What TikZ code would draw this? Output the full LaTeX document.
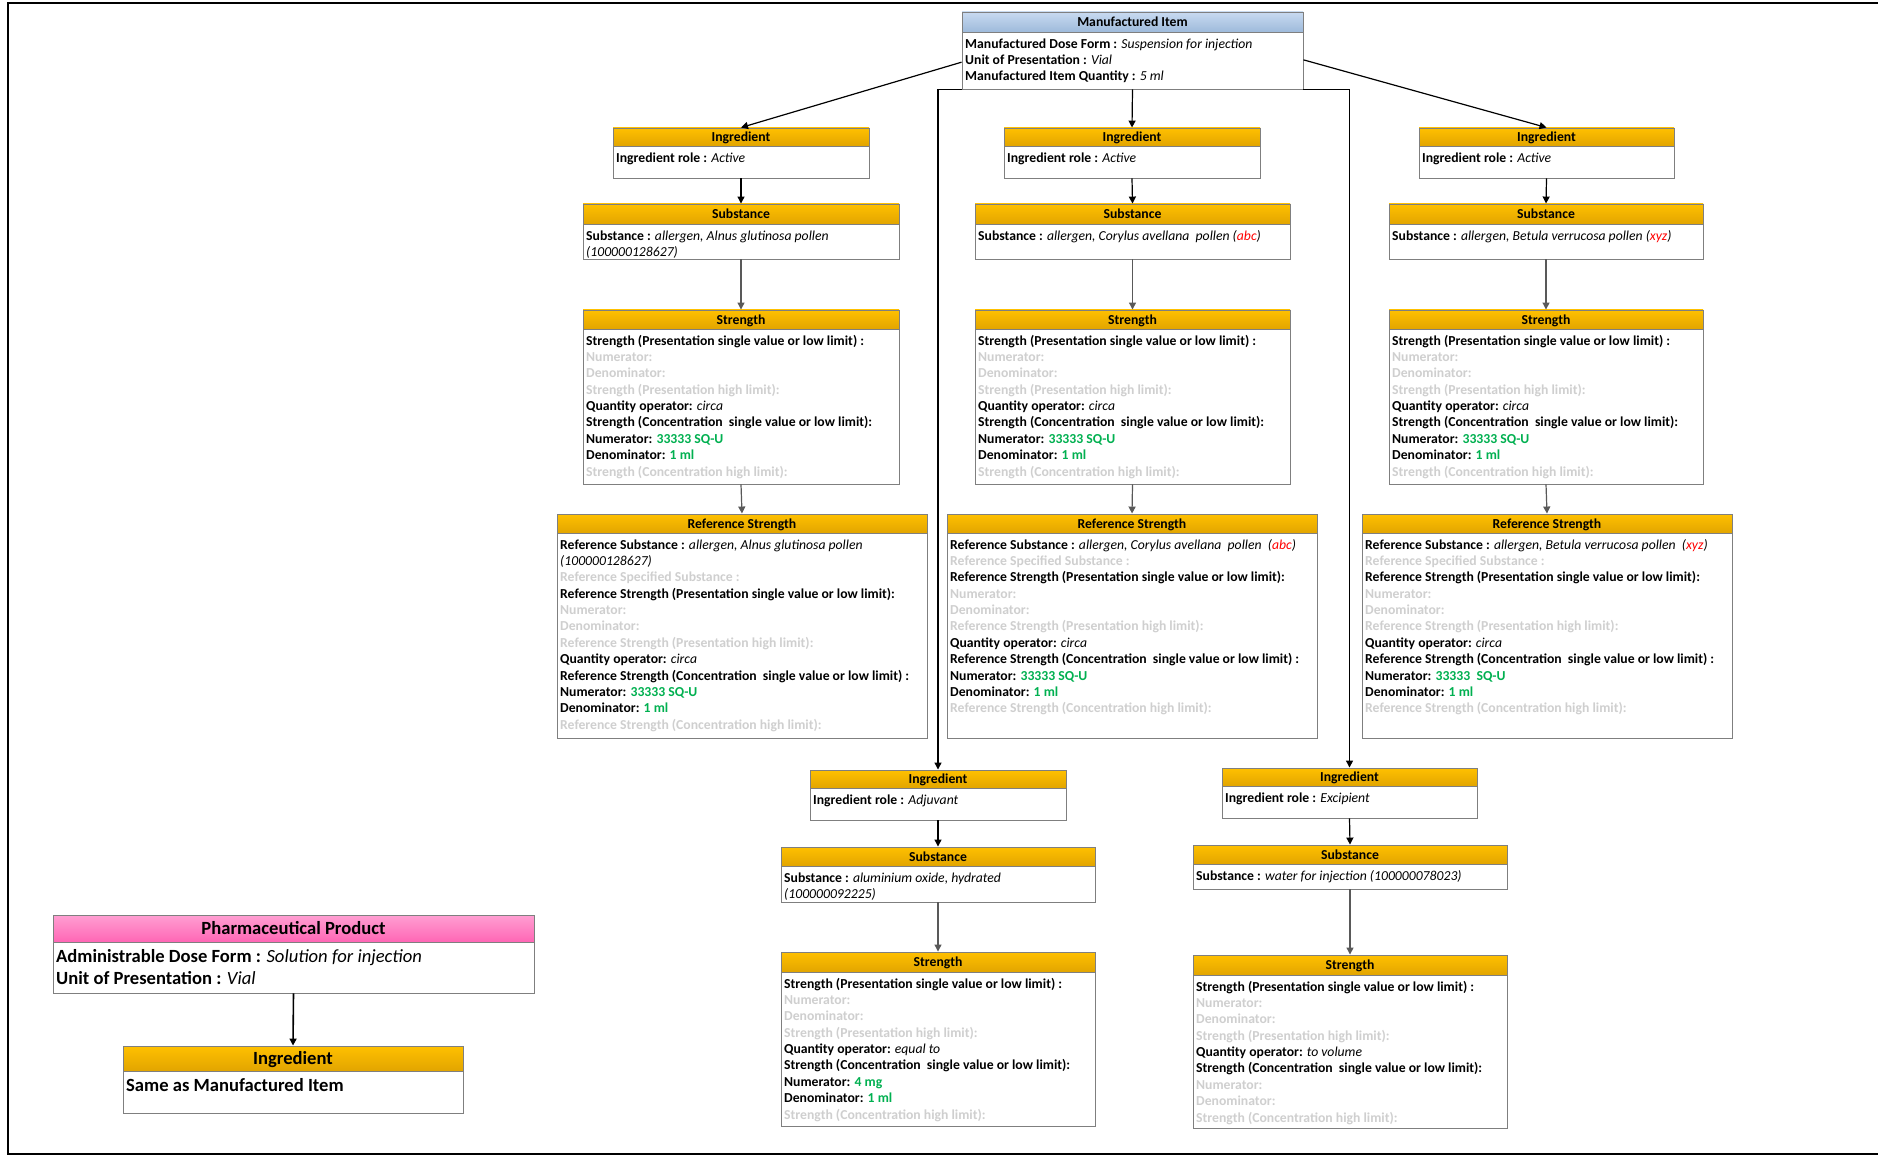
\documentclass[tikz,border=0pt]{standalone}
\usepackage{fontspec}
\setmainfont{Carlito}
\usetikzlibrary{arrows.meta,fit,calc}
\definecolor{boxline}{HTML}{7F7F7F}
\definecolor{ohtop}{HTML}{FFC000}
\definecolor{ohbot}{HTML}{E2A500}
\definecolor{bhtop}{HTML}{C8DAF0}
\definecolor{bhbot}{HTML}{9EBADB}
\definecolor{phtop}{HTML}{FF9FD2}
\definecolor{phbot}{HTML}{FF66B5}
\definecolor{phg}{HTML}{CFCFCF}
\definecolor{gval}{HTML}{00B050}
\definecolor{rval}{HTML}{FF0000}
\definecolor{arrg}{HTML}{595959}
\newcommand\xB[1]{\textbf{#1}}
\newcommand\xI[1]{\textit{#1}}
\newcommand\xG[1]{\textcolor{phg}{\textbf{#1}}}
\newcommand\xV[1]{\textcolor{gval}{\textbf{#1}}}
\newcommand\xR[1]{\textcolor{rval}{#1}}
\newcommand\smallfnt{\fontsize{13.7}{16.35}\selectfont}
\newcommand\bigfnt{\fontsize{18.6}{22}\selectfont}
\tikzset{
  x=1pt,y=-1pt,
  boxbody/.style={draw=boxline,line width=0.9pt,fill=white,inner sep=0pt},
  orangehdr/.style={draw=boxline,line width=0.9pt,inner sep=0pt,top color=ohtop,bottom color=ohbot},
  bluehdr/.style={draw=boxline,line width=0.9pt,inner sep=0pt,top color=bhtop,bottom color=bhbot},
  pinkhdr/.style={draw=boxline,line width=0.9pt,inner sep=0pt,top color=phtop,bottom color=phbot},
  bodytxt/.style={inner sep=0pt,anchor=north west,align=left},
  arrb/.style={draw=black,line width=1.2pt,-{Triangle[length=7pt,width=7pt]}},
  arrgr/.style={draw=arrg,line width=1.2pt,-{Triangle[length=7pt,width=7pt]}},
}
% #1 name #2 x1 #3 y1 #4 x2 #5 y2 #6 header bottom #7 header style #8 title #9 body
\newcommand\ubox[9]{%
  \node[boxbody,fit={(#2,#3)(#4,#5)}] (#1) {};
  \node[#7,fit={(#2,#3)(#4,#6)}] (#1-h) {};
  \node[inner sep=0pt,anchor=base,yshift=-4.8pt,font=\smallfnt\bfseries] (#1-t) at (#1-h.center) {#8};
  \node[bodytxt,font=\smallfnt] (#1-b) at (#2+3,#6+4) {\rule{0pt}{12pt}#9};
}
\newcommand\bbox[9]{%
  \node[boxbody,fit={(#2,#3)(#4,#5)}] (#1) {};
  \node[#7,fit={(#2,#3)(#4,#6)}] (#1-h) {};
  \node[inner sep=0pt,anchor=base,yshift=-6.3pt,font=\bigfnt\bfseries] (#1-t) at (#1-h.center) {#8};
  \node[bodytxt,font=\bigfnt] (#1-b) at (#2+3,#6+5) {\rule{0pt}{15pt}#9};
}
\newcommand\strtext[3]{\xB{Strength (Presentation single value or low limit) :}\\
\xG{Numerator:}\\ \xG{Denominator:}\\ \xG{Strength (Presentation high limit):}\\
\xB{Quantity operator:} \xI{#1}\\
\xB{Strength (Concentration\ \ single value or low limit):}\\
#2\\ #3\\ \xG{Strength (Concentration high limit):}}
\newcommand\reftail{\xB{Reference Strength (Presentation single value or low limit):}\\
\xG{Numerator:}\\ \xG{Denominator:}\\ \xG{Reference Strength (Presentation high limit):}\\
\xB{Quantity operator:} \xI{circa}\\
\xB{Reference Strength (Concentration\ \ single value or low limit) :}\\}
\begin{document}
\begin{tikzpicture}
\useasboundingbox (0,0) rectangle (1878,1155);
% frame
\draw[line width=2.5pt,line cap=rect] (1878,3) -- (8,3) -- (8,1154) -- (1878,1154);

\ubox{MI}{962}{12}{1303}{89}{32}{bluehdr}{Manufactured Item}{\xB{Manufactured Dose Form :} \xI{Suspension for injection}\\ \xB{Unit of Presentation :} \xI{Vial}\\ \xB{Manufactured Item Quantity :} \xI{5 ml}}

% column 1
\ubox{I1}{613}{128}{869}{178}{146}{orangehdr}{Ingredient}{\xB{Ingredient role :} \xI{Active}}
\ubox{S1}{583}{204}{899}{259}{224}{orangehdr}{Substance}{\xB{Substance :} \xI{allergen, Alnus glutinosa pollen}\\ \xI{(100000128627)}}
\ubox{T1}{583}{310}{899}{484}{329}{orangehdr}{Strength}{\strtext{circa}{\xB{Numerator:} \xV{33333 SQ-U}}{\xB{Denominator:} \xV{1 ml}}}
\ubox{R1}{557}{514}{927}{738}{533}{orangehdr}{Reference Strength}{\xB{Reference Substance :} \xI{allergen, Alnus glutinosa pollen}\\ \xI{(100000128627)}\\ \xG{Reference Specified Substance :}\\ \reftail \xB{Numerator:} \xV{33333 SQ-U}\\ \xB{Denominator:} \xV{1 ml}\\ \xG{Reference Strength (Concentration high limit):}}

% column 2
\ubox{I2}{1004}{128}{1260}{178}{146}{orangehdr}{Ingredient}{\xB{Ingredient role :} \xI{Active}}
\ubox{S2}{975}{204}{1290}{259}{224}{orangehdr}{Substance}{\xB{Substance :} \xI{allergen, Corylus avellana\ \ pollen (\xR{abc})}}
\ubox{T2}{975}{310}{1290}{484}{329}{orangehdr}{Strength}{\strtext{circa}{\xB{Numerator:} \xV{33333 SQ-U}}{\xB{Denominator:} \xV{1 ml}}}
\ubox{R2}{947}{514}{1317}{738}{533}{orangehdr}{Reference Strength}{\xB{Reference Substance :} \xI{allergen, Corylus avellana\ \ pollen\ \ (\xR{abc})}\\ \xG{Reference Specified Substance :}\\ \reftail \xB{Numerator:} \xV{33333 SQ-U}\\ \xB{Denominator:} \xV{1 ml}\\ \xG{Reference Strength (Concentration high limit):}}

% column 3
\ubox{I3}{1419}{128}{1674}{178}{146}{orangehdr}{Ingredient}{\xB{Ingredient role :} \xI{Active}}
\ubox{S3}{1389}{204}{1703}{259}{224}{orangehdr}{Substance}{\xB{Substance :} \xI{allergen, Betula verrucosa pollen (\xR{xyz})}}
\ubox{T3}{1389}{310}{1703}{484}{329}{orangehdr}{Strength}{\strtext{circa}{\xB{Numerator:} \xV{33333 SQ-U}}{\xB{Denominator:} \xV{1 ml}}}
\ubox{R3}{1362}{514}{1732}{738}{533}{orangehdr}{Reference Strength}{\xB{Reference Substance :} \xI{allergen, Betula verrucosa pollen\ \ (\xR{xyz})}\\ \xG{Reference Specified Substance :}\\ \reftail \xB{Numerator:} \xV{33333\ \ SQ-U}\\ \xB{Denominator:} \xV{1 ml}\\ \xG{Reference Strength (Concentration high limit):}}

% adjuvant
\ubox{IA}{810}{770}{1066}{820}{788}{orangehdr}{Ingredient}{\xB{Ingredient role :} \xI{Adjuvant}}
\ubox{SA}{781}{847}{1095}{902}{866}{orangehdr}{Substance}{\xB{Substance :} \xI{aluminium oxide, hydrated}\\ \xI{(100000092225)}}
\ubox{TA}{781}{952}{1095}{1126}{972}{orangehdr}{Strength}{\strtext{equal to}{\xB{Numerator:} \xV{4 mg}}{\xB{Denominator:} \xV{1 ml}}}

% excipient
\ubox{IE}{1222}{768}{1477}{818}{786}{orangehdr}{Ingredient}{\xB{Ingredient role :} \xI{Excipient}}
\ubox{SE}{1193}{845}{1507}{889}{864}{orangehdr}{Substance}{\xB{Substance :} \xI{water for injection (100000078023)}}
\ubox{TE}{1193}{955}{1507}{1128}{975}{orangehdr}{Strength}{\strtext{to volume}{\xG{Numerator:}}{\xG{Denominator:}}}

% pharmaceutical product
\bbox{PP}{53}{915}{534}{993}{942}{pinkhdr}{Pharmaceutical Product}{\xB{Administrable Dose Form :} \xI{Solution for injection}\\ \xB{Unit of Presentation :} \xI{Vial}}
\bbox{PI}{123}{1046}{463}{1113}{1071}{orangehdr}{Ingredient}{\xB{Same as Manufactured Item}}

% connectors
\draw[arrb] ($(MI.north west)!0.65!(MI.south west)$) -- (I1.north);
\draw[arrb] (MI.south) -- (I2.north);
\draw[arrb] ($(MI.north east)!0.62!(MI.south east)$) -- (I3.north);
\draw[arrb] (MI.south west) -| (IA.north);
\draw[arrb] (MI.south east) -| (IE.north);
\foreach \c in {1,2,3,A,E}{
  \draw[arrb] (I\c.south) -- (S\c.north);
  \draw[arrgr] (S\c.south) -- (T\c.north);
}
\foreach \c in {1,2,3}{
  \draw[arrgr] (T\c.south) -- (R\c.north);
}
\draw[arrb,line width=1.6pt] (PP.south) -- (PI.north);
\end{tikzpicture}
\end{document}
